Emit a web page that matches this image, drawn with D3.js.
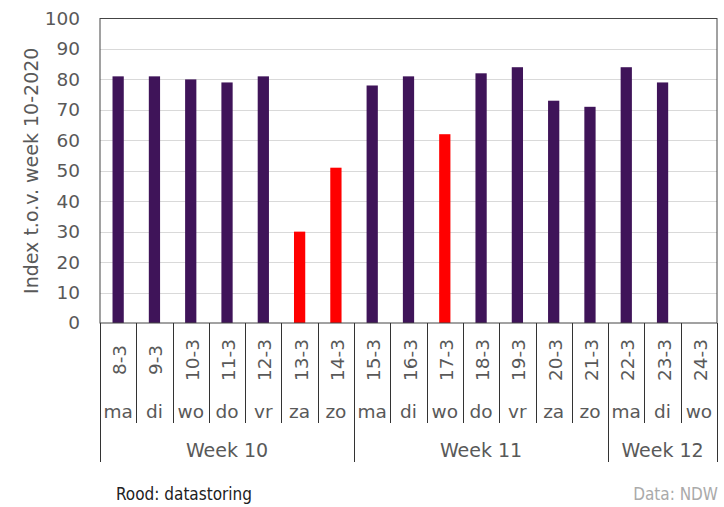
<!DOCTYPE html>
<html>
<head>
<meta charset="utf-8">
<script src="https://cdn.jsdelivr.net/npm/d3@7"></script>
<style>
  body { margin: 0; background: #fff; }
  svg { font-family: "DejaVu Sans", Verdana, sans-serif; }
</style>
</head>
<body>
<svg id="vis" width="724" height="507"></svg>
<script>
const width = 724;
const height = 507;

// data
const dates = ["8-3", "9-3", "10-3", "11-3", "12-3", "13-3", "14-3", "15-3", "16-3",
  "17-3", "18-3", "19-3", "20-3", "21-3", "22-3", "23-3", "24-3"];
const days = ["ma", "di", "wo", "do", "vr", "za", "zo", "ma", "di",
  "wo", "do", "vr", "za", "zo", "ma", "di", "wo"];
const values = [81, 81, 80, 79, 81, 30, 51, 78, 81, 62, 82, 84, 73, 71, 84, 79, null];
const datastoring = ["13-3", "14-3", "17-3"];
const weeks = ["Week 10", "Week 11", "Week 12"];
const weekStart = ["8-3", "15-3", "22-3"];
const yTicks = [0, 10, 20, 30, 40, 50, 60, 70, 80, 90, 100];

const margin = {top: 18.5, right: 7, bottom: 184, left: 100};
const textColor = "#595959";

const svg = d3.select("svg#vis");

const x = d3.scaleBand()
  .domain(dates)
  .range([margin.left, width - margin.right])
  .paddingInner(0.69)
  .paddingOuter(0.345);

const xCell = d3.scaleBand()
  .domain(dates)
  .range([margin.left, width - margin.right]);

const y = d3.scaleLinear()
  .domain([0, 100])
  .range([height - margin.bottom, margin.top]);

const plotBottom = y(0);

// gridlines
svg.append("g")
  .selectAll("line")
  .data(yTicks.filter(d => d > 0 && d < 100))
  .join("line")
  .attr("x1", margin.left)
  .attr("x2", width - margin.right)
  .attr("y1", d => Math.round(y(d)) + 0.5)
  .attr("y2", d => Math.round(y(d)) + 0.5)
  .attr("stroke", "#d9d9d9")
  .attr("stroke-width", 1);

// y axis labels
svg.append("g")
  .attr("transform", "translate(" + margin.left + ",0)")
  .call(d3.axisLeft(y).tickValues(yTicks).tickSize(0).tickPadding(20))
  .call(g => g.select(".domain").remove())
  .selectAll("text")
  .style("font-family", "DejaVu Sans")
  .style("font-size", "18.5px")
  .attr("fill", textColor);

// y title
svg.append("text")
  .attr("transform", "translate(38," + (y(50)) + ") rotate(-90)")
  .attr("text-anchor", "middle")
  .style("font-size", "19px")
  .attr("fill", textColor)
  .text("Index t.o.v. week 10-2020");

// bars
svg.append("g")
  .selectAll("rect")
  .data(dates.map((d, i) => ({date: d, value: values[i]})).filter(d => d.value != null))
  .join("rect")
  .attr("x", d => x(d.date))
  .attr("width", x.bandwidth())
  .attr("y", d => y(d.value))
  .attr("height", d => plotBottom - y(d.value))
  .attr("fill", d => datastoring.includes(d.date) ? "#ff0000" : "#3f1459");

// plot frame
svg.append("rect")
  .attr("x", margin.left)
  .attr("y", margin.top)
  .attr("width", width - margin.right - margin.left)
  .attr("height", plotBottom - margin.top)
  .attr("fill", "none")
  .attr("stroke", "#444")
  .attr("stroke-width", 1);

// category axis: separators
const dayRowBottom = 423;
const weekRowBottom = 462;
const cat = svg.append("g");

cat.selectAll("line.sep")
  .data(dates.concat(["end"]))
  .join("line")
  .attr("class", "sep")
  .attr("x1", (d, i) => Math.round(i < dates.length ? xCell(d) : width - margin.right) + 0.5)
  .attr("x2", (d, i) => Math.round(i < dates.length ? xCell(d) : width - margin.right) + 0.5)
  .attr("y1", plotBottom)
  .attr("y2", (d, i) => (i === dates.length || weekStart.includes(d)) ? weekRowBottom : dayRowBottom)
  .attr("stroke", "#333")
  .attr("stroke-width", 1);

// date labels (rotated)
cat.selectAll("text.date")
  .data(dates)
  .join("text")
  .attr("class", "date")
  .attr("transform", d => "translate(" + (xCell(d) + xCell.bandwidth() / 2 + 8) + "," + 360 + ") rotate(-90)")
  .attr("text-anchor", "middle")
  .style("font-size", "18.5px")
  .attr("fill", textColor)
  .text(d => d);

// day labels
cat.selectAll("text.day")
  .data(dates)
  .join("text")
  .attr("class", "day")
  .attr("x", d => xCell(d) + xCell.bandwidth() / 2)
  .attr("y", 418)
  .attr("text-anchor", "middle")
  .style("font-size", "18.5px")
  .attr("fill", textColor)
  .text((d, i) => days[i]);

// week labels
const weekEnd = [xCell("15-3"), xCell("22-3"), width - margin.right];
cat.selectAll("text.week")
  .data(weeks)
  .join("text")
  .attr("class", "week")
  .attr("x", (d, i) => (xCell(weekStart[i]) + weekEnd[i]) / 2)
  .attr("y", 457)
  .attr("text-anchor", "middle")
  .style("font-size", "19px")
  .attr("fill", textColor)
  .text(d => d);

// footer
svg.append("text")
  .attr("x", 116)
  .attr("y", 500)
  .style("font-size", "17px")
  .style("font-family", "'DejaVu Sans Condensed', 'DejaVu Sans'")
  .style("font-stretch", "condensed")
  .attr("fill", "#222")
  .text("Rood: datastoring");

svg.append("text")
  .attr("x", 718)
  .attr("y", 500)
  .attr("text-anchor", "end")
  .style("font-size", "17px")
  .style("font-family", "'DejaVu Sans Condensed', 'DejaVu Sans'")
  .style("font-stretch", "condensed")
  .attr("fill", "#aaa")
  .text("Data: NDW");
</script>
</body>
</html>
